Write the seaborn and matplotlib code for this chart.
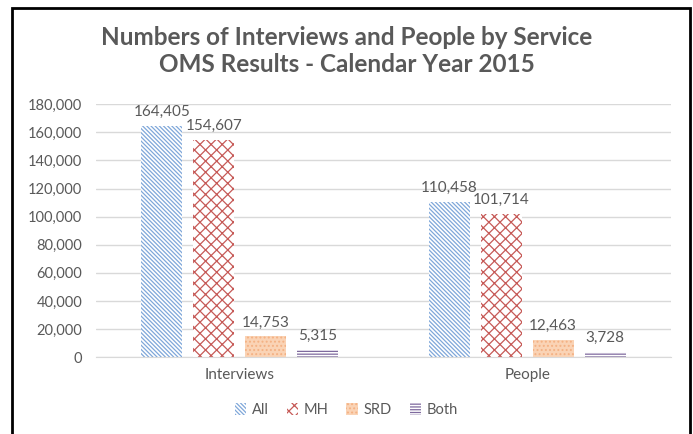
import numpy as np
import pandas as pd
import matplotlib
matplotlib.use("Agg")
import matplotlib.pyplot as plt
from matplotlib.patches import Patch, Rectangle
import seaborn as sns

# === Data ===
categories = ["Interviews", "People"]
services = ["All", "MH", "SRD", "Both"]
all_vals = [164405, 110458]
mh_vals = [154607, 101714]
srd_vals = [14753, 12463]
both_vals = [5315, 3728]

df = pd.DataFrame({
    "category": categories * 4,
    "service": np.repeat(services, 2),
    "value": all_vals + mh_vals + srd_vals + both_vals,
})

# === Styling ===
sns.set_style("white")
plt.rcParams["font.family"] = ["Lato", "DejaVu Sans"]
plt.rcParams["hatch.linewidth"] = 0.9
grey = "#595959"

styles = {
    "All": dict(face="white", edge="#7FA7D9", hatch="\\\\\\\\\\\\\\\\"),
    "MH": dict(face="white", edge="#C65A57", hatch="xxx"),
    "SRD": dict(face="#FAD3B5", edge="#F4B183", hatch="...."),
    "Both": dict(face="white", edge="#7F6A9E", hatch="------"),
}

fig = plt.figure(figsize=(6.93, 4.34), dpi=100)
ax = fig.add_axes([0.1385, 0.177, 0.8295, 0.583])

sns.barplot(data=df, x="category", y="value", hue="service",
            hue_order=services, order=categories,
            width=0.724, gap=0.21, ax=ax, legend=False)

for cont, svc in zip(ax.containers, services):
    st = styles[svc]
    for bar in cont:
        bar.set_facecolor(st["face"])
        bar.set_edgecolor(st["edge"])
        bar.set_hatch(st["hatch"])
        bar.set_linewidth(0)
    ax.bar_label(cont, labels=[f"{v:,.0f}" for v in cont.datavalues],
                 padding=5, fontsize=11, color=grey)

ax.set_ylim(0, 180000)
ax.set_yticks(np.arange(0, 180001, 20000))
ax.yaxis.set_major_formatter(matplotlib.ticker.FuncFormatter(lambda v, p: f"{v:,.0f}"))
ax.grid(axis="y", color="#D9D9D9", linewidth=1)
ax.set_axisbelow(True)
for s in ["top", "right", "left"]:
    ax.spines[s].set_visible(False)
ax.spines["bottom"].set_color("#D9D9D9")
ax.tick_params(axis="y", length=0, labelsize=10.5, colors=grey, pad=10)
ax.tick_params(axis="x", length=0, labelsize=11, colors=grey, pad=8)
ax.set_xlabel("")
ax.set_ylabel("")

fig.text(0.5, 0.913, "Numbers of Interviews and People by Service",
         ha="center", va="center", fontsize=17.5, fontweight="bold", color=grey)
fig.text(0.5, 0.851, "OMS Results - Calendar Year 2015",
         ha="center", va="center", fontsize=17.5, fontweight="bold", color=grey)

handles = [Patch(facecolor=styles[s]["face"], edgecolor=styles[s]["edge"],
                 hatch=styles[s]["hatch"], linewidth=0, label=s) for s in services]
fig.legend(handles=handles, loc="center", bbox_to_anchor=(0.5, 0.055), ncol=4,
           frameon=False, fontsize=10.5, labelcolor=grey,
           handlelength=0.8, handleheight=0.8, handletextpad=0.4, columnspacing=1.2)

# outer chart border
fig.patches.append(Rectangle((12 / 693, -0.05), 678 / 693, 1.05 - 8 / 434,
                             transform=fig.transFigure, fill=False,
                             edgecolor="black", linewidth=2))

fig.savefig("out.png", dpi=100)
